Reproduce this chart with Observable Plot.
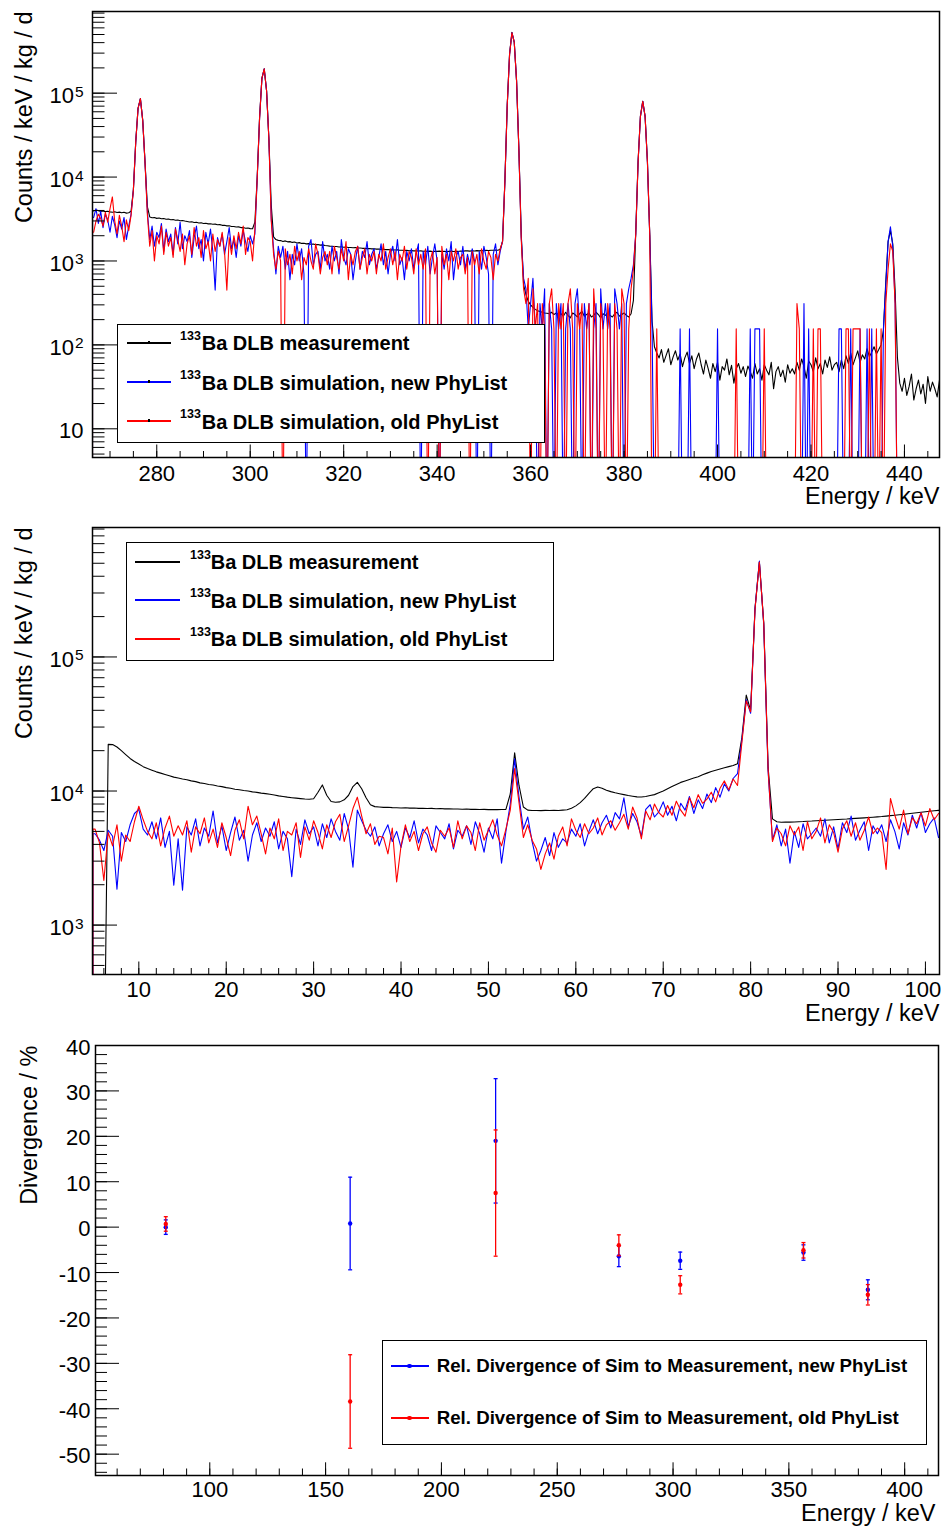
<!DOCTYPE html>
<html><head><meta charset="utf-8">
<script src="https://cdn.jsdelivr.net/npm/d3@7"></script>
<script src="https://cdn.jsdelivr.net/npm/@observablehq/plot@0.6"></script>
<style>
html,body{margin:0;padding:0;background:#fff;}
#root{position:relative;width:942px;height:1528px;overflow:hidden;font-family:"Liberation Sans",Arial,Helvetica,sans-serif;color:#000;}
</style></head><body><div id="root"></div>
<script>
// ================= DATA =================
// Top spectrum (266-447 keV), histogram bins of 0.5 keV starting at topBinStart
const topBinStart = 266.25, topBinWidth = 0.5;
const topMeasurement = [
3950,4050,3980,3900,3950,3870,3920,3850,3800,3860,3780,3820,3750,3800,3720,3760,3920,7060,26200,66000,
86000,47400,14700,4400,3350,3280,3300,3220,3250,3180,3200,3140,3160,3100,3120,3060,3080,3020,3040,2990,
2960,2920,2930,2880,2890,2840,2850,2800,2810,2770,2780,2740,2750,2700,2710,2660,2670,2620,2630,2580,
2580,2540,2550,2500,2510,2460,2470,2430,2420,2900,10000,51000,150000,195000,107000,28100,4630,1940,1800,1760,
1750,1710,1735,1690,1700,1665,1680,1640,1655,1620,1630,1600,1610,1580,1595,1565,1575,1545,1555,1530,
1520,1505,1500,1485,1490,1470,1475,1460,1465,1445,1450,1440,1445,1425,1430,1415,1420,1405,1410,1395,
1400,1385,1390,1375,1380,1365,1370,1355,1360,1350,1355,1340,1345,1335,1340,1325,1330,1320,1325,1315,
1320,1305,1315,1300,1310,1295,1305,1300,1310,1295,1305,1290,1300,1310,1295,1305,1300,1315,1305,1320,
1320,1310,1325,1315,1330,1320,1335,1325,1340,1330,1345,1340,1350,1345,1380,1720,9050,72000,292000,530000,
407000,139000,20700,2060,520,400,330,300,280,265,255,250,245,240,238,235,245,230,240,228,
235,220,245,225,210,240,230,215,235,250,220,230,240,215,225,245,230,210,235,225,
240,225,215,235,245,220,230,240,225,215,235,340,2170,15400,53000,80000,53000,15400,2040,190,
95,80,70,88,62,75,90,58,72,85,66,78,55,70,82,60,74,52,68,80,
58,45,66,52,40,60,48,62,38,55,50,68,44,57,35,52,60,46,55,42,
56,48,40,60,45,52,38,58,50,44,62,30,48,55,42,50,36,58,46,52,
45,62,50,68,55,40,64,58,48,70,52,60,45,66,54,72,50,58,62,48,
66,52,74,60,80,58,70,85,62,76,68,90,72,82,95,78,88,100,150,560,
1700,2300,1600,450,70,35,28,40,25,32,45,22,30,38,26,34,20,42,28,36,
30,24,38];
const topSimNew = [
3300,4200,2800,3900,2500,3600,3100,2200,3400,2700,1900,3000,2400,3300,1800,2600,3600,7000,26000,66000,
86000,47000,14500,3800,1800,2600,1500,2200,1900,2800,1300,2400,1700,2100,1200,2500,1600,2900,1400,2000,
1700,2300,1100,1900,2600,1400,1800,1000,2200,1600,2400,1300,450,1900,1500,2100,1200,1700,2500,1400,
1800,1100,2000,1500,2300,1700,1300,2000,1600,2100,9800,50000,150000,195000,107000,28000,3200,1400,700,1500,
1100,1500,800,1300,600,1200,900,1600,1000,1400,700,0,1500,1800,900,1200,1300,800,1700,1000,
1200,800,1500,1000,1300,700,1800,1100,900,1400,1200,600,1000,1500,800,1300,1100,1700,900,1200,
1400,800,1100,1600,900,1300,700,1200,1500,1000,1800,900,1100,600,1300,1000,1400,800,1200,1600,
0,1300,900,1500,700,1100,1600,1000,0,1200,800,1400,1000,1700,600,1100,1300,900,1500,800,
1200,900,1400,1000,0,1300,800,1500,1100,700,0,1200,1600,900,1300,1720,9000,72000,290000,525000,
405000,139000,20500,1900,620,465,155,310,620,155,0,310,155,465,0,310,155,0,310,155,
310,0,155,310,155,0,310,465,155,0,310,155,310,0,155,310,0,465,155,310,
155,310,0,465,310,155,310,0,310,465,620,900,2100,15000,53000,80000,53000,15000,2000,155,
0,0,0,0,0,0,0,0,0,0,0,155,0,0,0,155,0,0,0,0,
0,0,0,0,0,0,0,155,0,0,0,0,0,0,0,0,0,0,0,0,
0,155,0,155,155,155,0,0,0,0,0,0,0,0,0,0,0,0,0,0,
0,0,0,0,310,0,155,0,0,0,0,0,0,0,0,0,0,0,0,155,
155,0,0,0,155,0,0,0,155,0,0,155,0,155,0,0,0,0,155,500,
1700,2550,1500,310,0,0,0,0,0,0,0,0,0,0,0,0,0,0,0,0,
0,0,0];
const topSimOld = [
2200,3000,3600,3200,2600,3800,2900,4200,5800,3000,2100,3500,2600,1700,3100,2300,3500,7000,26000,66000,
86000,47000,14500,3500,1500,2300,1000,2000,1600,2600,1200,2200,1500,1900,1100,2400,1800,1300,2100,900,
1600,2000,1200,2500,1500,1900,1100,2300,1400,1700,1000,2100,1300,1800,1500,2200,1300,450,1900,1200,
2000,1400,2200,1600,2600,1200,1900,1700,1000,2400,9800,50000,150000,195000,107000,28000,3000,1200,800,1300,
1000,0,1400,900,1200,700,1500,1000,1300,600,1100,900,1400,1000,800,1600,1200,700,1100,1300,
900,1300,700,1500,1100,800,1400,1000,1700,600,1200,900,1300,1500,800,1100,1400,700,1200,1000,
1300,700,1200,1000,1600,800,1100,1400,900,1300,600,1200,1000,1500,800,1300,1100,700,1400,900,
1200,800,1400,0,1000,1300,700,1100,0,1500,900,1200,600,1300,1000,1400,800,1100,1200,700,
1100,0,1300,900,1200,700,1400,1000,800,1300,1100,600,1200,1000,1400,1700,9000,72000,290000,525000,
405000,139000,20500,1800,465,310,620,0,465,155,310,0,310,155,0,310,465,155,0,310,
155,310,0,310,465,155,0,310,155,310,0,155,310,0,465,155,0,310,155,0,
310,155,0,310,155,0,465,310,0,155,465,800,2100,15000,53000,80000,53000,15000,2000,0,
0,155,0,0,0,0,0,0,0,0,0,0,0,0,0,0,0,0,0,0,
0,0,0,0,0,0,0,0,0,0,0,0,0,0,0,155,0,0,0,0,
0,0,0,0,0,0,0,155,0,0,0,0,0,0,0,0,0,0,0,0,
0,310,155,0,0,0,0,0,155,0,155,155,0,0,0,0,0,0,0,0,
0,0,155,155,0,155,155,155,155,0,0,0,155,0,0,155,0,155,0,310,
800,1600,1300,310,0,0,0,0,0,0,0,0,0,0,0,0,0,0,0,0,
0,0,0];

// Middle spectrum (5-102 keV), bins of 0.5 keV
const midBinStart = 4.75, midBinWidth = 0.5;
const midMeasurement = [
0,0,0,22300,22200,21300,20000,18700,17500,16600,15900,15200,14700,14300,13900,13600,13300,13000,12700,12500,
12300,12150,11900,11750,11500,11380,11200,11080,10900,10780,10600,10480,10300,10220,10080,10000,9860,9770,9640,9560,
9450,9350,9200,9100,9000,8920,8850,8780,8720,8680,8750,9800,11100,9300,8350,8250,8300,8600,9300,10800,
11600,10400,8900,7900,7650,7600,7550,7560,7520,7500,7480,7500,7450,7470,7420,7440,7400,7420,7380,7400,
7360,7380,7340,7350,7320,7340,7300,7320,7280,7300,7270,7290,7260,7280,7300,9500,19300,11000,7600,7200,
7150,7160,7140,7170,7150,7180,7160,7200,7250,7450,7750,8200,8800,9600,10400,10700,10500,10150,9900,9700,
9550,9400,9250,9150,9050,9020,9100,9250,9400,9700,10000,10400,10800,11200,11600,11900,12200,12500,12800,13200,
13600,14000,14300,14600,14900,15200,15500,16000,25000,52000,40000,230000,510000,180000,15000,6200,5900,5850,5880,5860,
5880,5900,5920,5950,5970,6000,6020,6050,6080,6100,6130,6160,6180,6220,6250,6280,6310,6350,6380,6420,
6450,6500,6550,6600,6650,6700,6760,6820,6880,6940,7000,7060,7120,7170];
const midSimNew = [
4800,4300,3600,5100,4600,1850,4900,4200,5600,6800,7300,5200,4700,5900,4400,6300,3800,5000,1980,4400,
1820,5400,4700,6200,3900,5300,4600,7100,4100,5500,3600,4900,6400,4300,5100,3000,4700,5800,4200,5300,
4600,5900,3700,5000,4400,2300,5200,4000,6100,4800,5400,3900,5700,4500,6200,5000,4300,6800,5200,2700,
7200,6000,5100,4600,5400,3900,4800,5600,4200,5000,3800,5300,4500,6000,4100,5200,4700,3600,5500,4900,
4400,5700,3700,5100,4600,5500,4000,5900,4800,3500,5300,4400,6200,2900,5000,8000,17400,9000,5200,6400,
4200,3000,3600,4500,3300,4900,3800,4400,4100,5200,4600,5700,3900,5000,6100,4800,5800,6600,5300,6900,
6200,8900,5400,6800,5900,4600,7300,7900,6400,7000,8300,6600,7700,6000,8100,7200,9100,6800,8600,7400,
9500,8200,10600,9000,11300,10000,12400,13500,24000,48000,38000,230000,520000,175000,14000,4300,5600,3900,5200,2900,
5000,3800,5700,4400,4800,5300,4600,6200,4100,5400,3700,5800,4900,6500,4300,5100,5900,3600,5500,4800,
5600,4200,6100,5000,3700,5800,4700,6600,5300,6900,4900,5700,6300,4500];
const midSimOld = [
5200,4100,2150,4900,3900,5600,3000,4700,4200,5900,7700,6100,5000,4400,5800,3900,5300,6500,4600,5500,
4700,6000,3500,5400,4800,6300,4100,5200,3800,5800,4500,3300,5100,6100,4400,7700,5600,6500,4800,3400,
5300,4400,6200,3600,5000,4700,5800,3200,5400,4300,6000,4900,3700,5600,4500,5900,6700,4200,5500,7400,
9000,6500,4800,5700,4000,4600,4500,3400,5300,2100,3900,5600,4200,5000,3600,4800,5400,4100,3500,5100,
4600,5300,3800,6000,4400,5500,4900,3600,5800,4300,5100,6100,4700,3900,5200,7200,14700,8200,4500,5600,
4300,3700,2600,3400,4100,3100,4600,5400,3900,6200,5100,4500,5700,4800,5300,6300,4700,5600,6000,5100,
5800,6700,5200,7600,6300,4400,7100,6100,8000,6900,6400,7800,6600,8400,7200,6500,8900,7500,9400,8100,
8700,9800,8300,10500,11900,10200,12300,11000,23000,47000,39000,225000,510000,178000,14500,4200,5300,4800,3900,5500,
4700,5400,3600,5900,4400,5000,6300,4100,5600,4900,3500,5200,6000,4600,5800,4300,5100,6400,4800,5300,
4900,2600,8800,6600,5200,7200,4800,6300,5700,6900,5500,7400,6100,6800];

// Bottom: relative divergence per gamma line
const divEnergy = [81.0, 160.6, 223.4, 276.6, 303.1, 356.3, 384.1];
const divNew    = [0.0, 0.8, 19.0, -6.4, -7.4, -5.6, -13.8];
const divNewErr = [1.6, 10.2, 13.7, 2.3, 1.9, 1.7, 2.2];
const divOld    = [0.7, -38.4, 7.5, -4.0, -12.7, -5.1, -14.9];
const divOldErr = [1.6, 10.3, 13.9, 2.3, 2.0, 1.7, 2.25];

// Ticks and labels
const topXTicks = [280, 300, 320, 340, 360, 380, 400, 420, 440];
const midXTicks = [10, 20, 30, 40, 50, 60, 70, 80, 90, 100];
const divXTicks = [100, 150, 200, 250, 300, 350, 400];
const divYTicks = [-50, -40, -30, -20, -10, 0, 10, 20, 30, 40];
const topYTicks = [10, 100, 1000, 10000, 100000];
const topYExp = ["", "2", "3", "4", "5"];
const midYTicks = [1000, 10000, 100000];
const midYExp = ["3", "4", "5"];
const yTickBase = "10";
const isotope = "133";
const spectrumLabels = ["Ba DLB measurement", "Ba DLB simulation, new PhyList", "Ba DLB simulation, old PhyList"];
const divLabels = ["Rel. Divergence of Sim to Measurement, new PhyList", "Rel. Divergence of Sim to Measurement, old PhyList"];
const yTitleSpectrum = "Counts / keV / kg / d";
const yTitleDiv = "Divergence / %";
const xTitle = "Energy / keV";

// ================= DRAWING =================
const FF = '"Liberation Sans", Arial, Helvetica, sans-serif';
const W = 942;
const COLORS = ["#000000", "#0000ff", "#ff0000"];
const root = document.getElementById("root");

// histogram outline: rises from zero at the left edge, then passes through bin centres
function histPoints(start, width, values) {
  const pts = [{x: start, v: 0}, {x: start, v: values[0]}];
  values.forEach((v, i) => pts.push({x: start + (i + 0.5) * width, v}));
  pts.push({x: start + values.length * width, v: values[values.length - 1]});
  return pts;
}
function place(svg, top) {
  svg.style.position = "absolute"; svg.style.left = "0px"; svg.style.top = top + "px";
  root.appendChild(svg);
}

function spectrumPanel(o) {
  const fw = W - o.ml - o.mr, fh = o.height - o.mt - o.mb;
  const floor = o.yDomain[0] / 10;
  const marks = [];
  o.series.forEach((vals, k) => marks.push(Plot.line(histPoints(o.binStart, o.binWidth, vals), {
    x: "x", y: d => Math.max(d.v, floor), curve: "linear", stroke: COLORS[k], strokeWidth: 1.1, clip: true
  })));
  const logMinor = [];
  for (let e = 0; e <= 6; e++) for (let m = 1; m <= 9; m++) {
    const v = m * Math.pow(10, e);
    if (v >= o.yDomain[0] && v <= o.yDomain[1]) logMinor.push(v);
  }
  marks.push(Plot.tickY(logMinor, {y: d => d, insetRight: fw - 12.5, stroke: "#000"}));
  marks.push(Plot.tickY(o.yTicks, {y: d => d, insetRight: fw - 25, stroke: "#000"}));
  marks.push(Plot.tickX(o.xMinor, {x: d => d, insetTop: fh - 6, stroke: "#000"}));
  marks.push(Plot.tickX(o.xTicks, {x: d => d, insetTop: fh - 12.5, stroke: "#000"}));
  marks.push(Plot.frame({stroke: "#000", strokeWidth: 1.5}));
  const xr = d3.scaleLinear(o.xDomain, [o.ml, W - o.mr]);
  const inner = o.xTicks.filter(t => xr(t) + 20 <= W);
  const edge = o.xTicks.filter(t => xr(t) + 20 > W);
  marks.push(Plot.text(inner, {x: d => d, frameAnchor: "bottom", dy: o.xLabelDy, text: d => String(d),
    fontSize: 22, lineAnchor: "middle", fill: "#000"}));
  marks.push(Plot.text(edge, {x: d => d, frameAnchor: "bottom", dy: o.xLabelDy, dx: -2.5, text: d => String(d),
    fontSize: 22, lineAnchor: "middle", fill: "#000"}));
  const idx = o.yTicks.map((_, i) => i);
  const plain = idx.filter(i => o.yExp[i] === ""), sup = idx.filter(i => o.yExp[i] !== "");
  marks.push(Plot.text(plain, {y: i => o.yTicks[i], frameAnchor: "left", dx: -9, dy: 2.5, text: () => yTickBase,
    textAnchor: "end", fontSize: 22, lineAnchor: "middle", fill: "#000"}));
  marks.push(Plot.text(sup, {y: i => o.yTicks[i], frameAnchor: "left", dx: -18.5, dy: 3, text: () => yTickBase,
    textAnchor: "end", fontSize: 22, lineAnchor: "middle", fill: "#000"}));
  marks.push(Plot.text(sup, {y: i => o.yTicks[i], frameAnchor: "left", dx: -17.6, dy: -1.5, text: i => o.yExp[i],
    textAnchor: "start", fontSize: 15.5, lineAnchor: "middle", fill: "#000"}));
  marks.push(Plot.text([yTitleSpectrum], {frameAnchor: "top-left", dx: -68.5, dy: 0, rotate: -90, text: d => d,
    textAnchor: "end", lineAnchor: "middle", fontSize: 23.5, fill: "#000"}));
  marks.push(Plot.text([xTitle], {frameAnchor: "bottom-right", dx: 0, dy: 39, text: d => d,
    textAnchor: "end", lineAnchor: "middle", fontSize: 23.5, fill: "#000"}));
  const svg = Plot.plot({
    width: W, height: o.height, marginTop: o.mt, marginBottom: o.mb, marginLeft: o.ml, marginRight: o.mr,
    x: {type: "linear", domain: o.xDomain, axis: null},
    y: {type: "log", domain: o.yDomain, axis: null},
    style: {fontFamily: FF, background: "transparent", overflow: "visible"},
    marks
  });
  place(svg, o.top);
}

spectrumPanel({
  top: 0, height: 512, mt: 11, mb: 55, ml: 92, mr: 3,
  xDomain: [266.25, 447.5], yDomain: [4.55, 9.4e5],
  binStart: topBinStart, binWidth: topBinWidth,
  series: [topMeasurement, topSimNew, topSimOld],
  xTicks: topXTicks, xMinor: d3.range(270, 447, 5), xLabelDy: 16,
  yTicks: topYTicks, yExp: topYExp
});
spectrumPanel({
  top: 512, height: 512, mt: 15, mb: 50, ml: 92, mr: 3,
  xDomain: [4.70, 101.61], yDomain: [428, 9.24e5],
  binStart: midBinStart, binWidth: midBinWidth,
  series: [midMeasurement, midSimNew, midSimOld],
  xTicks: midXTicks, xMinor: d3.range(6, 101.6, 2), xLabelDy: 15.7,
  yTicks: midYTicks, yExp: midYExp
});

// Bottom panel
(function () {
  const top = 1024, height = 504, mt = 21, mb = 53, ml = 95, mr = 4;
  const fw = W - ml - mr, fh = height - mt - mb;
  const idx = divEnergy.map((_, i) => i);
  const capSymbol = {draw(ctx, size) { const r = Math.sqrt(size / Math.PI); ctx.moveTo(-r, 0); ctx.lineTo(r, 0); }};
  const series = [[divNew, divNewErr, COLORS[1]], [divOld, divOldErr, COLORS[2]]];
  const marks = [];
  marks.push(Plot.tickY(d3.range(-54, 40.1, 2), {y: d => d, insetRight: fw - 12, stroke: "#000"}));
  marks.push(Plot.tickY(divYTicks, {y: d => d, insetRight: fw - 24, stroke: "#000"}));
  marks.push(Plot.tickX(d3.range(60, 414, 10), {x: d => d, insetTop: fh - 6.5, stroke: "#000"}));
  marks.push(Plot.tickX(divXTicks, {x: d => d, insetTop: fh - 12.7, stroke: "#000"}));
  for (const [v, e, c] of series) {
    marks.push(Plot.ruleX(idx, {x: i => divEnergy[i], y1: i => v[i] - e[i], y2: i => v[i] + e[i], stroke: c, strokeWidth: 1.3}));
    marks.push(Plot.dot(idx, {x: i => divEnergy[i], y: i => v[i] + e[i], symbol: capSymbol, r: 2, stroke: c, strokeWidth: 1.3}));
    marks.push(Plot.dot(idx, {x: i => divEnergy[i], y: i => v[i] - e[i], symbol: capSymbol, r: 2, stroke: c, strokeWidth: 1.3}));
    marks.push(Plot.dot(idx, {x: i => divEnergy[i], y: i => v[i], r: 2.2, fill: c, stroke: "none"}));
  }
  marks.push(Plot.frame({stroke: "#000", strokeWidth: 1.5}));
  marks.push(Plot.text(divXTicks, {x: d => d, frameAnchor: "bottom", dy: 14.7, text: d => String(d), fontSize: 22, lineAnchor: "middle", fill: "#000"}));
  marks.push(Plot.text(divYTicks, {y: d => d, frameAnchor: "left", dx: -5, dy: 2, text: d => String(d), textAnchor: "end", fontSize: 22, lineAnchor: "middle", fill: "#000"}));
  marks.push(Plot.text([yTitleDiv], {frameAnchor: "top-left", dx: -66.5, dy: 0, rotate: -90, text: d => d, textAnchor: "end", lineAnchor: "middle", fontSize: 23.5, fill: "#000"}));
  marks.push(Plot.text([xTitle], {frameAnchor: "bottom-right", dx: -3, dy: 37.5, text: d => d, textAnchor: "end", lineAnchor: "middle", fontSize: 23.5, fill: "#000"}));
  const svg = Plot.plot({
    width: W, height, marginTop: mt, marginBottom: mb, marginLeft: ml, marginRight: mr,
    x: {type: "linear", domain: [50.66, 414.6], axis: null},
    y: {type: "linear", domain: [-54.7, 40], axis: null},
    style: {fontFamily: FF, background: "transparent", overflow: "visible"},
    marks
  });
  place(svg, top);
})();

// ================= LEGENDS (HTML overlay) =================
function box(style, text) {
  const d = document.createElement("div");
  d.style.position = "absolute";
  Object.assign(d.style, style);
  if (text != null) d.textContent = text;
  root.appendChild(d);
  return d;
}
function textTop(yc, f) { return (yc - 0.4885 * f) + "px"; }
function legendFrame(x0, y0, x1, y1) {
  box({left: x0 + "px", top: y0 + "px", width: (x1 - x0) + "px", height: (y1 - y0) + "px",
    background: "#fff", border: "1.5px solid #000", boxSizing: "border-box"});
}
function sampleLine(x0, x1, yc, color) {
  box({left: Math.round(x0) + "px", top: (Math.round(yc) - 1) + "px", width: Math.round(x1 - x0) + "px",
    height: "2px", background: color});
}
function spectrumLegend(b, rows, lx0, lx1, supX, txtX, marker) {
  legendFrame(b[0], b[1], b[2], b[3]);
  spectrumLabels.forEach((lab, i) => {
    const yc = rows[i];
    sampleLine(lx0, lx1, yc, COLORS[i]);
    if (marker) box({left: Math.round((lx0 + lx1) / 2 - 1) + "px", top: (Math.round(yc) - 2) + "px", width: "2px", height: "3px", background: "#000"});
    box({left: supX + "px", top: textTop(yc - 6.8, 12.5), fontSize: "12.5px", lineHeight: "1", fontWeight: "bold", whiteSpace: "nowrap"}, isotope);
    box({left: txtX + "px", top: textTop(yc, 20), fontSize: "20px", lineHeight: "1", fontWeight: "bold", whiteSpace: "nowrap"}, lab);
  });
}
spectrumLegend([116.7, 324, 545, 443.3], [343, 382.3, 421.3], 126.7, 170.7, 180, 201.7, true);
spectrumLegend([125.7, 541.7, 554, 660.7], [561.7, 600.3, 639], 135, 180, 190, 210.7, false);

legendFrame(382.3, 1340, 926.7, 1444.7);
divLabels.forEach((lab, i) => {
  const yc = [1365.7, 1418.3][i];
  const c = COLORS[i + 1];
  sampleLine(390.7, 428.3, yc, c);
  box({left: "407.3px", top: (Math.round(yc) - 2.2) + "px", width: "4.4px", height: "4.4px", borderRadius: "50%", background: c});
  box({left: "436.7px", top: textTop(yc, 18.7), fontSize: "18.7px", lineHeight: "1", fontWeight: "bold", whiteSpace: "nowrap"}, lab);
});
</script></body></html>
